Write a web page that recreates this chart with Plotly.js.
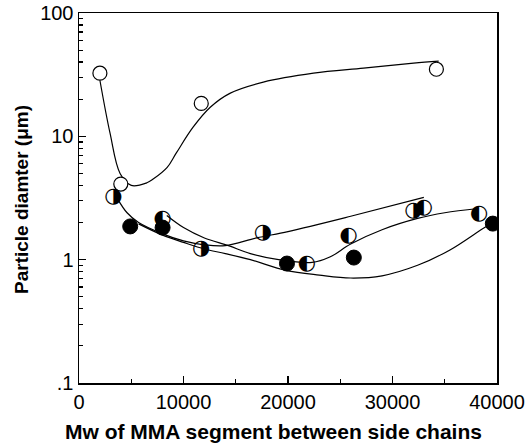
<!DOCTYPE html>
<html>
<head>
<meta charset="utf-8">
<script src="https://cdn.plot.ly/plotly-3.0.1.min.js"></script>
<style>html,body{margin:0;padding:0;background:#fff;}#chart{width:526px;height:443px;}</style>
</head>
<body>
<div id="chart"></div>
<script>
// Measured points
var openX = [2000, 4000, 11700, 34200];
var openY = [32.5, 4.1, 18.5, 35];
var rightHalfX = [3300, 11700, 17600, 32000];
var rightHalfY = [3.25, 1.23, 1.66, 2.5];
var leftHalfX = [8000, 21800, 25800, 33000, 38300];
var leftHalfY = [2.15, 0.93, 1.57, 2.65, 2.37];
var filledX = [4900, 8000, 19900, 26300, 39600];
var filledY = [1.86, 1.82, 0.93, 1.04, 1.96];

// Fitted curves
var openFitX = [2000, 2970, 3930, 5000, 6500, 7100, 8440, 9300, 10900, 12560, 14480, 17640, 22440, 27230, 32020, 34420];
var openFitY = [28.5, 10.6, 5.0, 4.0, 4.2, 4.5, 5.6, 7.3, 11.8, 17.2, 22.4, 27.5, 32.5, 35.7, 39.2, 40.7];
var rightFitX = [3700, 4600, 5700, 8000, 10000, 12000, 14000, 17000, 20000, 26000, 33000];
var rightFitY = [3.1, 2.4, 2.0, 1.62, 1.42, 1.32, 1.3, 1.5, 1.69, 2.25, 3.2];
var leftFitX = [8400, 10000, 12000, 14300, 16400, 19100, 22300, 24000, 26000, 29000, 32400, 35000, 38200];
var leftFitY = [2.28, 1.82, 1.5, 1.3, 1.12, 1.0, 0.95, 1.05, 1.34, 1.75, 2.16, 2.4, 2.6];
var filledFitX = [5700, 8000, 10000, 12000, 14000, 16400, 19800, 23000, 26000, 29000, 32400, 35500, 38700, 39400];
var filledFitY = [1.95, 1.58, 1.38, 1.22, 1.12, 1.0, 0.82, 0.75, 0.71, 0.74, 0.9, 1.2, 1.8, 1.95];

var xTickVals = [0, 10000, 20000, 30000, 40000];
var xTickText = ['0', '10000', '20000', '30000', '40000'];
var yTickVals = [0.1, 1, 10, 100];
var yTickText = ['.1', '1', '10', '100'];
var yMinorVals = [0.2,0.3,0.4,0.5,0.6,0.7,0.8,0.9,2,3,4,5,6,7,8,9,20,30,40,50,60,70,80,90];

var lineStyle = {color: '#000', width: 1.2, shape: 'spline', smoothing: 1};
function fit(x, y) {
  return {x: x, y: y, mode: 'lines', line: lineStyle, hoverinfo: 'skip', showlegend: false};
}
var halfFont = {family: 'DejaVu Sans', size: 21, color: '#000'};
var traces = [
  fit(openFitX, openFitY),
  fit(rightFitX, rightFitY),
  fit(leftFitX, leftFitY),
  fit(filledFitX, filledFitY),
  {x: openX, y: openY, mode: 'markers', showlegend: false,
   marker: {symbol: 'circle', size: 14, color: '#fff', line: {color: '#000', width: 1.2}}},
  {x: filledX, y: filledY, mode: 'markers', showlegend: false,
   marker: {symbol: 'circle', size: 15, color: '#000', line: {color: '#000', width: 1}}},
  {x: rightHalfX, y: rightHalfY, mode: 'text', showlegend: false, text: rightHalfX.map(function(){return '\u25D1';}),
   textposition: 'middle center', textfont: halfFont},
  {x: leftHalfX, y: leftHalfY, mode: 'text', showlegend: false, text: leftHalfX.map(function(){return '\u25D0';}),
   textposition: 'middle center', textfont: halfFont}
];

var tickFont = {size: 20, family: 'Liberation Sans, Arial, sans-serif', color: '#000'};
var layout = {
  width: 526, height: 443,
  margin: {l: 79, r: 29, t: 13, b: 60},
  paper_bgcolor: '#fff', plot_bgcolor: '#fff',
  font: {family: 'Liberation Sans, Arial, sans-serif', color: '#000'},
  showlegend: false,
  xaxis: {
    range: [0, 40000], showgrid: false, zeroline: false,
    showline: true, linecolor: '#000', linewidth: 1.5, mirror: true,
    tickmode: 'array', tickvals: xTickVals, ticktext: xTickText,
    ticks: 'inside', ticklen: 7, tickwidth: 1.2, tickcolor: '#000',
    tickfont: tickFont,
    minor: {dtick: 5000, ticks: 'inside', ticklen: 4, tickwidth: 1.2, tickcolor: '#000', showgrid: false}
  },
  yaxis: {
    type: 'log', range: [-1, 2], showgrid: false, zeroline: false,
    showline: true, linecolor: '#000', linewidth: 1.5, mirror: true,
    tickmode: 'array', tickvals: yTickVals, ticktext: yTickText,
    ticks: 'inside', ticklen: 7, tickwidth: 1.2, tickcolor: '#000',
    tickfont: tickFont,
    minor: {tickmode: 'array', tickvals: yMinorVals, ticks: 'inside', ticklen: 4, tickwidth: 1.2, tickcolor: '#000', showgrid: false}
  },
  annotations: [
    {text: '<b>Mw of MMA segment between side chains</b>', xref: 'paper', yref: 'paper',
     x: 0.466, y: -0.13, xanchor: 'center', yanchor: 'middle', showarrow: false,
     font: {size: 21, family: 'Liberation Sans, Arial, sans-serif', color: '#000'}},
    {text: '<b>Particle diamter (\u03BCm)</b>', xref: 'paper', yref: 'paper',
     x: -0.136, y: 0.495, xanchor: 'center', yanchor: 'middle', textangle: -90, showarrow: false,
     font: {size: 19, family: 'Liberation Sans, Arial, sans-serif', color: '#000'}}
  ]
};

Plotly.newPlot('chart', traces, layout, {staticPlot: true, displayModeBar: false});
</script>
</body>
</html>
